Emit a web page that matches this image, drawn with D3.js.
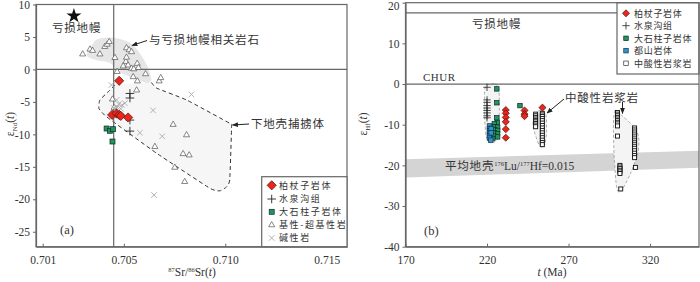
<!DOCTYPE html>
<html>
<head>
<meta charset="utf-8">
<script src="https://cdn.jsdelivr.net/npm/d3@7"></script>
<style>
  body { margin: 0; background: #fff; }
  svg text { fill: #333; }
  .num { font-family: "Liberation Serif", "DejaVu Serif", serif; font-size: 11.5px; }
  .cjk { font-family: "Noto Sans CJK SC", sans-serif; font-size: 10.5px; letter-spacing: 0.8px; }
  .lgA { font-size: 9px; letter-spacing: 1.6px; }
  .lgB { font-size: 9px; letter-spacing: 0.7px; }
</style>
</head>
<body>
<div id="viz"></div>
<script>
// ---------- panel (a): 87Sr/86Sr(t) vs eNd(t) ----------
var srTicks = [0.701, 0.705, 0.710, 0.715];
var ndTicks = [10, 5, 0, -5, -10, -15, -20, -25];

var depletedMantleA = [0.70254, 8.25];

// 基性-超基性岩
var basicRocks = [
  [0.70297, 2.35], [0.70333, 3.1], [0.70346, 2.9], [0.70382, 2.35], [0.70406, 3.5],
  [0.70418, 3.85], [0.70428, 4.25], [0.70456, 1.8], [0.70467, -0.35], [0.70513, 3.3],
  [0.70526, 3.0], [0.70538, 2.7], [0.7051, 1.2], [0.70497, 0.5], [0.70513, 1.85],
  [0.70521, 0.65], [0.70538, 0.15], [0.70549, 0.05], [0.70566, 0.9], [0.70572, 0.25],
  [0.70546, -1.15], [0.70567, -1.8], [0.70607, -0.7], [0.70563, -3.2], [0.70674, -1.8],
  [0.70682, -1.3], [0.70743, -8.5], [0.70809, -10.1], [0.70653, -11.9], [0.70751, -15.1],
  [0.70792, -13.0], [0.70822, -13.2], [0.70800, -17.3], [0.70444, -4.6], [0.70452, -5.9]
];
// 碱性岩
var alkaline = [
  [0.70439, -2.4], [0.70464, -4.7], [0.70475, -5.35], [0.7049, -5.5], [0.70505, -5.2],
  [0.70466, -5.8], [0.70451, -5.95], [0.70485, -6.05], [0.70644, -6.3], [0.70833, -3.85],
  [0.70579, -9.75], [0.70689, -10.3], [0.70649, -19.35]
];
// 水泉沟组
var shuiquangouA = [[0.7053, -3.7], [0.7053, -4.4], [0.7053, -7.8], [0.7053, -9.5]];
// 大石柱子岩体
var dashizhuziA = [[0.70415, -9.1], [0.70431, -9.45], [0.70447, -9.2], [0.70444, -11.1]];
// 柏杖子岩体
var baizhangziA = [
  [0.70477, -1.75], [0.70442, -7.0], [0.70464, -6.8], [0.70477, -7.0], [0.70485, -7.15], [0.70521, -7.4]
];

// fields (data units)
var mantleField = [
  [0.70319, 2.5], [0.70366, 4.6], [0.70446, 4.9], [0.7053, 4.1], [0.70579, 2.5],
  [0.70618, 0.4], [0.70636, -1.6], [0.70613, -2.1], [0.70544, -1.3], [0.7048, -0.4],
  [0.70431, 1.0], [0.70367, 1.4], [0.70323, 1.9]
];
var crustField = [
  [0.70636, -2.0], [0.70663, -2.9], [0.70809, -4.7], [0.71022, -8.3], [0.71031, -8.8],
  [0.71022, -17.0], [0.71006, -18.1], [0.70973, -18.7], [0.70924, -18.3], [0.70661, -12.9],
  [0.70415, -7.3], [0.70377, -6.0], [0.70382, -4.7], [0.70431, -3.2], [0.70456, -2.4]
];

// ---------- panel (b): t vs eHf(t) ----------
var ageTicks = [170, 220, 270, 320];
var hfTicks = [20, 10, 0, -10, -20, -30, -40];
var depletedMantleHf = 17.5;
var crustBand = [[170, -23, -18.5], [350, -20.6, -16.4]]; // t, lower, upper

var baizhangziB = [
  [231.5, -6.4], [231.5, -7.2], [231.5, -8.2], [231.5, -9.3], [231.5, -11.1], [231.5, -13.2],
  [243, -6.5], [243, -7.4], [243, -7.9], [254, -5.8]
];
var shuiquangouB = [
  [220, -0.8], [220, -3.9], [220, -4.5], [220, -5.3], [220, -5.9], [220, -6.5], [220, -7.1], [220, -7.8], [220, -8.3]
];
var dashizhuziB = [
  [226, -1.2], [226, -4.6], [226, -8.3], [226.3, -9.5], [224.5, -9.8], [224.5, -10.5], [226.5, -10.6],
  [224.5, -11.2], [226.5, -11.4], [224.5, -12.0], [226.5, -12.2], [224.5, -12.8], [223.5, -13.4],
  [226.5, -13.0], [240.2, -5.3]
];
var dushanB = [
  [221.5, -10.3], [221.5, -10.9], [221.5, -11.5], [221.5, -12.1], [221.5, -12.7], [221.5, -13.3],
  [222.3, -13.8], [222.5, -11.0], [222.5, -12.0]
];
var felsicB = [
  [249.8, -7.4], [249.8, -7.8], [249.8, -8.2], [249.8, -8.6], [249.8, -9.0], [249.8, -9.3], [249.8, -9.7], [249.8, -10.1], [249.8, -10.5],
  [253.9, -7.2], [253.9, -7.6], [253.9, -8.0], [253.9, -8.5], [253.9, -9.0], [253.9, -9.6], [253.9, -10.2], [253.9, -10.8],
  [253.9, -11.4], [253.9, -12.0], [253.9, -12.6], [253.9, -13.2], [253.9, -13.8], [253.9, -14.4], [253.9, -14.9],
  [300, -7.0], [300, -7.4], [300, -7.8], [300, -8.2], [300, -8.6], [300, -9.0], [300, -9.4], [300, -9.8], [300, -10.3], [300, -12.8],
  [301.5, -20.0], [301.5, -20.4], [301.5, -20.8], [301.5, -21.2], [301.5, -21.6], [301.5, -22.0], [302, -25.8],
  [310.5, -10.8], [310.5, -11.3], [310.5, -11.8], [310.5, -12.3], [310.5, -12.8], [310.5, -13.3], [310.5, -13.8], [310.5, -14.3],
  [310.5, -14.8], [310.5, -15.3], [310.5, -15.8], [310.5, -16.4], [310.5, -17.0], [310.5, -17.6], [310.5, -18.1], [311, -20.5]
];
var fieldB1 = [[219.5, -0.3], [225, 0], [227.3, -1.5], [227.5, -8], [226.5, -13.5], [222, -14.5], [219.5, -13], [218.5, -8], [218.5, -2]];
var fieldB2 = [[252, -6.5], [256, -7.5], [256.5, -12], [255, -15.5], [252, -15], [248.5, -11], [248.5, -8.5]];
var fieldB3 = [[298.5, -6.5], [302, -7.5], [310, -10.5], [313, -13], [312.5, -17], [308, -22], [302, -26.5], [299.5, -25.5], [298, -18], [297.5, -10]];

var legendA = ["柏杖子岩体", "水泉沟组", "大石柱子岩体", "基性-超基性岩", "碱性岩"];
var legendB = ["柏杖子岩体", "水泉沟组", "大石柱子岩体", "都山岩体", "中酸性岩浆岩"];

var RED = "#e8261c", GREEN = "#1f9a48", BLUE = "#2e93d1", AX = "#666";
var plain = function(d) { return String(d); };

var svg = d3.select("#viz").append("svg")
  .attr("width", 700).attr("height", 282);

var defs = svg.append("defs");
defs.append("marker").attr("id", "arr")
  .attr("viewBox", "0 0 10 10").attr("refX", 9).attr("refY", 5)
  .attr("markerWidth", 6).attr("markerHeight", 6).attr("orient", "auto")
  .append("path").attr("d", "M0,1 L10,5 L0,9 Z").attr("fill", "#222");

// symbol helpers
function diamond(g, pts, x, y, s) {
  g.selectAll(null).data(pts).enter().append("rect")
    .attr("x", -s / 2).attr("y", -s / 2).attr("width", s).attr("height", s)
    .attr("transform", function(d) { return "translate(" + x(d[0]) + "," + y(d[1]) + ") rotate(45)"; })
    .attr("fill", RED).attr("stroke", "#5a1410").attr("stroke-width", 0.7);
}
function square(g, pts, x, y, s, fill, stroke, sw) {
  g.selectAll(null).data(pts).enter().append("rect")
    .attr("x", function(d) { return x(d[0]) - s / 2; })
    .attr("y", function(d) { return y(d[1]) - s / 2; })
    .attr("width", s).attr("height", s)
    .attr("fill", fill).attr("stroke", stroke).attr("stroke-width", sw || 0.7);
}
function sym(g, pts, x, y, type, size, fill, stroke, sw) {
  g.selectAll(null).data(pts).enter().append("path")
    .attr("d", d3.symbol().type(type).size(size))
    .attr("transform", function(d) { return "translate(" + x(d[0]) + "," + y(d[1]) + ")"; })
    .attr("fill", fill).attr("stroke", stroke).attr("stroke-width", sw);
}

// =================== panel (a) ===================
var xL = d3.scaleLinear().domain([0.70067, 0.716]).range([36, 347]);
var yL = d3.scaleLinear().domain([-27.3, 10]).range([246.7, 4.5]);
var A = svg.append("g");

A.append("path").datum(crustField)
  .attr("d", d3.line().x(function(d) { return xL(d[0]); }).y(function(d) { return yL(d[1]); })
    .curve(d3.curveCardinalClosed.tension(0.6)))
  .attr("fill", "#f6f6f6").attr("stroke", "none");
A.append("path").datum(crustField)
  .attr("d", d3.line().x(function(d) { return xL(d[0]); }).y(function(d) { return yL(d[1]); })
    .curve(d3.curveCardinal.tension(0.6)))
  .attr("fill", "none").attr("stroke", "#333").attr("stroke-width", 1)
  .attr("stroke-dasharray", "4,3");
A.append("path").datum(mantleField)
  .attr("d", d3.line().x(function(d) { return xL(d[0]); }).y(function(d) { return yL(d[1]); })
    .curve(d3.curveCardinalClosed.tension(0.3)))
  .attr("fill", "#e6e6e6").attr("stroke", "none");

// reference lines
A.append("line").attr("x1", xL(0.70067)).attr("x2", xL(0.716)).attr("y1", yL(0)).attr("y2", yL(0))
  .attr("stroke", AX).attr("stroke-width", 1.2);
A.append("line").attr("x1", xL(0.7045)).attr("x2", xL(0.7045)).attr("y1", yL(10)).attr("y2", yL(-27.3))
  .attr("stroke", AX).attr("stroke-width", 1.2);

sym(A, basicRocks, xL, yL, d3.symbolTriangle, 16, "#fff", "#555", 0.7);
sym(A, alkaline, xL, yL, d3.symbolTimes, 22, "none", "#aaa", 0.9);
sym(A, shuiquangouA, xL, yL, d3.symbolPlus, 26, "none", "#222", 0.9);
square(A, dashizhuziA, xL, yL, 5, GREEN, "#124");
diamond(A, baizhangziA, xL, yL, 6.5);
sym(A, [depletedMantleA], xL, yL, d3.symbolStar, 70, "#111", "none", 0);

// axes
A.append("g").attr("transform", "translate(0," + yL(-27.3) + ")")
  .call(d3.axisBottom(xL).tickValues(srTicks).tickSizeInner(-3).tickSizeOuter(0).tickPadding(9)
    .tickFormat(d3.format(".3f")))
  .call(function(g) { g.selectAll("text").attr("class", "num"); });
A.append("g").attr("transform", "translate(" + xL(0.70067) + ",0)")
  .call(d3.axisLeft(yL).tickValues(ndTicks).tickSizeInner(3).tickSizeOuter(0).tickPadding(3).tickFormat(plain))
  .call(function(g) { g.selectAll("text").attr("class", "num"); });
A.append("rect").attr("x", xL(0.70067)).attr("y", yL(10))
  .attr("width", xL(0.716) - xL(0.70067)).attr("height", yL(-27.3) - yL(10))
  .attr("fill", "none").attr("stroke", AX).attr("stroke-width", 1.2);

// labels
A.append("text").attr("class", "cjk").attr("x", 52).attr("y", 32).style("font-size", "11.5px").text("亏损地幔");
A.append("text").attr("class", "cjk").attr("x", 149).attr("y", 44).style("font-size", "11.5px").text("与亏损地幔相关岩石");
A.append("line").attr("x1", 147).attr("y1", 40.5).attr("x2", 132).attr("y2", 45.5)
  .attr("stroke", "#222").attr("marker-end", "url(#arr)");
A.append("text").attr("class", "cjk").attr("x", 251).attr("y", 127.5).style("font-size", "11.5px").text("下地壳捕掳体");
A.append("line").attr("x1", 249).attr("y1", 124).attr("x2", 232.5).attr("y2", 125)
  .attr("stroke", "#222").attr("marker-end", "url(#arr)");
A.append("text").attr("class", "num").attr("x", 60).attr("y", 234).style("font-size", "12.5px").text("(a)");

// axis titles
var tL = A.append("text").attr("class", "num").attr("transform", "translate(14,124) rotate(-90)")
  .attr("text-anchor", "middle").style("font-size", "11.5px");
tL.append("tspan").text("ε");
tL.append("tspan").attr("dy", 3).style("font-size", "7px").text("Nd");
tL.append("tspan").attr("dy", -3).text("(");
tL.append("tspan").style("font-style", "italic").text("t");
tL.append("tspan").text(")");
var tB = A.append("text").attr("class", "num").attr("x", 192).attr("y", 276)
  .attr("text-anchor", "middle").style("font-size", "11.5px");
tB.append("tspan").attr("dy", -4).style("font-size", "6.5px").text("87");
tB.append("tspan").attr("dy", 4).text("Sr/");
tB.append("tspan").attr("dy", -4).style("font-size", "6.5px").text("86");
tB.append("tspan").attr("dy", 4).text("Sr(");
tB.append("tspan").style("font-style", "italic").text("t");
tB.append("tspan").text(")");

// legend (a)
var lgA = A.append("g");
lgA.append("rect").attr("x", 261.7).attr("y", 176.7).attr("width", 85.3).attr("height", 70)
  .attr("fill", "#fff").attr("stroke", AX).attr("stroke-width", 1.2);
var lyA = [185.3, 199, 211.8, 225, 238];
var lxA = d3.scaleLinear().domain([0, 1]).range([271.7, 272.7]);
var liA = d3.scaleIdentity();
diamond(lgA, [[0, lyA[0]]], lxA, liA, 6.5);
sym(lgA, [[0, lyA[1]]], lxA, liA, d3.symbolPlus, 26, "none", "#222", 0.9);
square(lgA, [[0, lyA[2]]], lxA, liA, 5, GREEN, "#124");
sym(lgA, [[0, lyA[3]]], lxA, liA, d3.symbolTriangle, 16, "#fff", "#555", 0.7);
sym(lgA, [[0, lyA[4]]], lxA, liA, d3.symbolTimes, 22, "none", "#aaa", 0.9);
lgA.selectAll(null).data(legendA).enter().append("text").attr("class", "cjk lgA")
  .attr("x", 279).attr("y", function(d, i) { return lyA[i] + 3.4; }).text(function(d) { return d; });

// =================== panel (b) ===================
var xR = d3.scaleLinear().domain([170, 350]).range([405.5, 699]);
var yR = d3.scaleLinear().domain([-40, 20]).range([246.7, 2.7]);
var B = svg.append("g");

B.append("path").datum(crustBand)
  .attr("d", d3.area().x(function(d) { return xR(d[0]); })
    .y0(function(d) { return yR(d[1]); }).y1(function(d) { return yR(d[2]); }))
  .attr("fill", "#d4d4d4");

var lineR = d3.line().x(function(d) { return xR(d[0]); }).y(function(d) { return yR(d[1]); })
  .curve(d3.curveCardinalClosed.tension(0.3));
[fieldB1, fieldB2, fieldB3].forEach(function(f) {
  B.append("path").datum(f).attr("d", lineR)
    .attr("fill", "#f4f4f4").attr("stroke", "#999").attr("stroke-width", 0.8)
    .attr("stroke-dasharray", "3,2");
});

B.append("line").attr("x1", xR(170)).attr("x2", xR(350)).attr("y1", yR(depletedMantleHf)).attr("y2", yR(depletedMantleHf))
  .attr("stroke", AX).attr("stroke-width", 1.2);
B.append("line").attr("x1", xR(170)).attr("x2", xR(350)).attr("y1", yR(0)).attr("y2", yR(0))
  .attr("stroke", AX).attr("stroke-width", 1.2);

square(B, felsicB, xR, yR, 4, "#fff", "#111", 0.9);
sym(B, shuiquangouB, xR, yR, d3.symbolPlus, 20, "none", "#222", 0.8);
square(B, dashizhuziB, xR, yR, 4.5, GREEN, "#124");
square(B, dushanB, xR, yR, 4.5, BLUE, "#134");
diamond(B, baizhangziB, xR, yR, 5);

B.append("g").attr("transform", "translate(0," + yR(-40) + ")")
  .call(d3.axisBottom(xR).tickValues(ageTicks).tickSizeInner(-3).tickSizeOuter(0).tickPadding(9))
  .call(function(g) { g.selectAll("text").attr("class", "num"); });
B.append("g").attr("transform", "translate(" + xR(170) + ",0)")
  .call(d3.axisLeft(yR).tickValues(hfTicks).tickSizeInner(3).tickSizeOuter(0).tickPadding(3).tickFormat(plain))
  .call(function(g) {
    g.selectAll("text").attr("class", "num");
    g.selectAll("text").filter(function(d) { return d === 20; }).attr("dy", "0.55em");
  });

// legend (b)
var lgB = B.append("g");
lgB.append("rect").attr("x", 617).attr("y", yR(20)).attr("width", 82).attr("height", 74 - yR(20))
  .attr("fill", "#fff").attr("stroke", AX).attr("stroke-width", 1.2);
var lyB = [13.3, 25.7, 38.3, 50.7, 63.3];
var lxB = d3.scaleLinear().domain([0, 1]).range([626, 627]);
var liB = d3.scaleIdentity();
diamond(lgB, [[0, lyB[0]]], lxB, liB, 5);
sym(lgB, [[0, lyB[1]]], lxB, liB, d3.symbolPlus, 20, "none", "#222", 0.8);
square(lgB, [[0, lyB[2]]], lxB, liB, 4.5, GREEN, "#124");
square(lgB, [[0, lyB[3]]], lxB, liB, 4.5, BLUE, "#134");
square(lgB, [[0, lyB[4]]], lxB, liB, 4.5, "#fff", "#333");
lgB.selectAll(null).data(legendB).enter().append("text").attr("class", "cjk lgB")
  .attr("x", 634).attr("y", function(d, i) { return lyB[i] + 3.4; }).text(function(d) { return d; });

B.append("rect").attr("x", xR(170)).attr("y", yR(20))
  .attr("width", xR(350) - xR(170)).attr("height", yR(-40) - yR(20))
  .attr("fill", "none").attr("stroke", AX).attr("stroke-width", 1.2);
svg.selectAll(".domain").attr("stroke", AX).attr("stroke-width", 1.2);
svg.selectAll(".tick line").attr("stroke", AX);

// labels (b)
B.append("text").attr("class", "cjk").attr("x", 472).attr("y", 27.5).style("font-size", "11.5px").text("亏损地幔");
B.append("text").attr("class", "num").attr("x", 423).attr("y", 81).style("font-size", "11px").style("letter-spacing", "0.5px").text("CHUR");
B.append("text").attr("class", "cjk").attr("x", 565).attr("y", 101.5).style("font-size", "11.5px").text("中酸性岩浆岩");
B.append("line").attr("x1", 564).attr("y1", 99).attr("x2", 547).attr("y2", 113)
  .attr("stroke", "#222").attr("marker-end", "url(#arr)");
B.append("line").attr("x1", 622.5).attr("y1", 102).attr("x2", 622.5).attr("y2", 113.5)
  .attr("stroke", "#222").attr("marker-end", "url(#arr)");
var band = B.append("text").attr("x", 445).attr("y", 170).style("font-size", "11.5px");
band.append("tspan").attr("class", "cjk").style("font-size", "11.5px").text("平均地壳");
band.append("tspan").attr("class", "num").attr("dy", -4).style("font-size", "6.5px").text("176");
band.append("tspan").attr("class", "num").attr("dy", 4).style("font-size", "11.5px").text("Lu/");
band.append("tspan").attr("class", "num").attr("dy", -4).style("font-size", "6.5px").text("177");
band.append("tspan").attr("class", "num").attr("dy", 4).style("font-size", "11.5px").text("Hf=0.015");
B.append("text").attr("class", "num").attr("x", 424).attr("y", 235).style("font-size", "12.5px").text("(b)");

var tR = B.append("text").attr("class", "num").attr("transform", "translate(367,124) rotate(-90)")
  .attr("text-anchor", "middle").style("font-size", "11.5px");
tR.append("tspan").text("ε");
tR.append("tspan").attr("dy", 3).style("font-size", "7px").text("Hf");
tR.append("tspan").attr("dy", -3).text("(");
tR.append("tspan").style("font-style", "italic").text("t");
tR.append("tspan").text(")");
var tRB = B.append("text").attr("class", "num").attr("x", 552).attr("y", 276)
  .attr("text-anchor", "middle").style("font-size", "11.5px");
tRB.append("tspan").style("font-style", "italic").text("t");
tRB.append("tspan").text(" (Ma)");
</script>
</body>
</html>
